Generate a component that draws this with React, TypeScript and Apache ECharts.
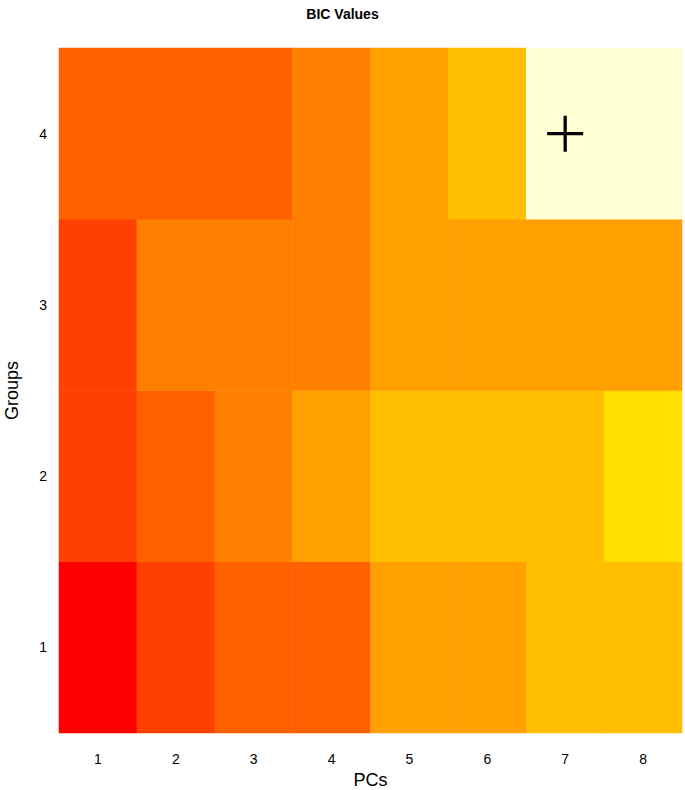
import React, { useEffect, useRef } from "react";
import * as echarts from "echarts";

const pcs = ["1", "2", "3", "4", "5", "6", "7", "8"];
const groups = ["1", "2", "3", "4"];

// colour level (index into heat palette) per cell, rows = groups 1..4, cols = PCs 1..8
const group1 = [0, 2, 3, 3, 5, 5, 6, 6];
const group2 = [2, 3, 4, 5, 6, 6, 6, 7];
const group3 = [2, 4, 4, 4, 5, 5, 5, 5];
const group4 = [3, 3, 3, 4, 5, 6, 11, 11];
const rows = [group1, group2, group3, group4];

const heatColors = [
  "#FF0000", "#FF2000", "#FF4000", "#FF6000", "#FF8000", "#FF9F00",
  "#FFBF00", "#FFDF00", "#FFFF00", "#FFFF2A", "#FFFF80", "#FFFFD5",
];

// best model marker
const best = [["7", "4"]];

export default function App() {
  const ref = useRef<HTMLDivElement>(null);
  useEffect(() => {
    if (!ref.current) return;
    const chart = echarts.init(ref.current, undefined, { renderer: "svg" });
    const data: number[][] = [];
    rows.forEach((row, yi) => row.forEach((v, xi) => data.push([xi, yi, v])));
    const font = "'Liberation Sans', Arial, Helvetica, sans-serif";
    chart.setOption({
      animation: false,
      title: {
        text: "BIC Values",
        left: "center",
        top: 2,
        textStyle: { fontFamily: font, fontSize: 14, fontWeight: "bold", color: "#000" },
      },
      grid: { left: 59, right: 3, top: 48, bottom: 57, outerBoundsMode: "none", containLabel: false },
      xAxis: {
        type: "category",
        data: pcs,
        name: "PCs",
        nameLocation: "middle",
        nameGap: 37,
        nameTextStyle: { fontFamily: font, fontSize: 18, color: "#000" },
        axisLine: { show: false },
        axisTick: { show: false },
        splitLine: { show: false },
        axisLabel: { fontFamily: font, fontSize: 14, color: "#000", margin: 19 },
      },
      yAxis: {
        type: "category",
        data: groups,
        name: "Groups",
        nameLocation: "middle",
        nameGap: 38,
        nameTextStyle: { fontFamily: font, fontSize: 18, color: "#000" },
        axisLine: { show: false },
        axisTick: { show: false },
        splitLine: { show: false },
        axisLabel: { fontFamily: font, fontSize: 14, color: "#000", margin: 12 },
      },
      visualMap: {
        type: "piecewise",
        show: false,
        seriesIndex: 0,
        dimension: 2,
        pieces: heatColors.map((c, i) => ({ value: i, color: c })),
      },
      series: [
        {
          type: "heatmap",
          data,
          itemStyle: { borderWidth: 0 },
          emphasis: { disabled: true },
        },
        {
          type: "scatter",
          data: best,
          symbol: "path://M-1.1,-12 H1.1 V-1.1 H12 V1.1 H1.1 V12 H-1.1 V1.1 H-12 V-1.1 H-1.1 Z",
          symbolSize: 36,
          itemStyle: { color: "#000", opacity: 1 },
          emphasis: { disabled: true },
          z: 5,
        },
      ],
    });
    return () => chart.dispose();
  }, []);
  return <div ref={ref} style={{ width: 685, height: 790, position: "absolute", left: 0, top: 0 }} />;
}
